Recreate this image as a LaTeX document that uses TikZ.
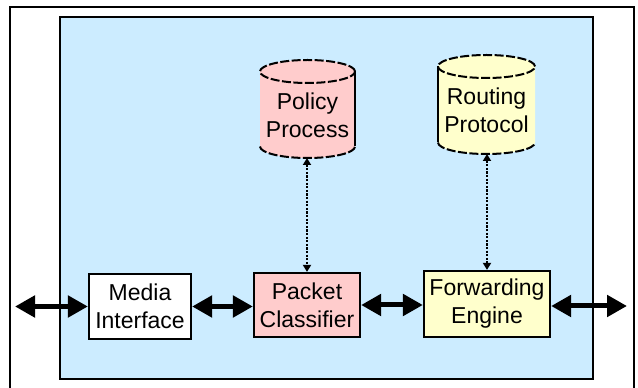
\documentclass[tikz,border=0pt]{standalone}
\usepackage{fontspec}
\setmainfont{Liberation Sans}
\usetikzlibrary{arrows.meta}
\definecolor{panel}{RGB}{204,236,255}
\definecolor{pinkfill}{RGB}{255,204,204}
\definecolor{yellowfill}{RGB}{255,255,204}
\tikzset{
  unit/.style={draw=black, line width=2.2pt, minimum width=#1, inner sep=0pt, minimum height=65pt,
    font=\fontsize{23}{28}\selectfont, align=center},
  label/.style={font=\fontsize{23}{28}\selectfont, align=center, inner sep=0pt},
  bigarrow/.style={line width=5pt, {Triangle[width=21pt,length=20pt]}-{Triangle[width=21pt,length=20pt]}},
  dotlink/.style={line width=1.8pt, dash pattern=on 2.2pt off 1.4pt,
    {Triangle[width=8pt,length=7pt]}-{Triangle[width=8pt,length=7pt]}},
  rim/.style={line width=2pt, dash pattern=on 9pt off 2.5pt},
  side/.style={line width=2.8pt},
}
\begin{document}
\begin{tikzpicture}[x=1pt,y=1pt]
\useasboundingbox (0,0) rectangle (638,388);
\begin{scope}
\clip (0,0) rectangle (638,388);
% outer frame, open at the bottom
\draw[line width=2.4pt] (10,-10) -- (10,381) -- (634,381) -- (634,-10);
% shaded router panel
\draw[line width=2.6pt, fill=panel] (60,9) rectangle (593,371);

% Policy Process store
\fill[pinkfill] (260,316.5) -- (260,241.5) arc[start angle=180,end angle=360,x radius=47.5,y radius=11.5]
  -- (355,316.5) arc[start angle=0,end angle=180,x radius=47.5,y radius=11.5];
\draw[rim] (307.5,316.5) ellipse[x radius=47.5,y radius=11.5];
\draw[rim] (260,241.5) arc[start angle=180,end angle=360,x radius=47.5,y radius=11.5];
\draw[side] (355,316.5) -- (355,241.5);
\node[label] (pol) at (307.5,273) {Policy\\Process};
\coordinate (polbot) at (307,230);

% Routing Protocol store
\fill[yellowfill] (438,321.5) -- (438,245.5) arc[start angle=180,end angle=360,x radius=48.5,y radius=11.5]
  -- (535,321.5) arc[start angle=0,end angle=180,x radius=48.5,y radius=11.5];
\draw[rim] (486.5,321.5) ellipse[x radius=48.5,y radius=11.5];
\draw[rim] (438,245.5) arc[start angle=180,end angle=360,x radius=48.5,y radius=11.5];
\draw[side] (438,321.5) -- (438,245.5);
\node[label] (rtp) at (486.5,278) {Routing\\Protocol};
\coordinate (rtpbot) at (487,234);

% processing units
\node[unit=102pt, fill=white] (mi) at (140,81.5) {Media\\Interface};
\node[unit=106pt, fill=pinkfill, minimum height=64pt] (pc) at (307,83) {Packet\\Classifier};
\node[unit=126pt, fill=yellowfill, minimum height=66pt] (fe) at (487,84) {Forwarding\\Engine};

% external ports
\coordinate (inport) at (15,81.5);
\coordinate (outport) at (627,82);

% data path
\draw[bigarrow] (inport) -- (mi.west);
\draw[bigarrow] (mi.east) -- (mi.east -| pc.west);
\draw[bigarrow] (pc.east) -- (pc.east -| fe.west);
\draw[bigarrow] (fe.east |- outport) -- (outport);

% control links
\draw[dotlink] (polbot) -- (pc.north);
\draw[dotlink] (rtpbot) -- (fe.north);
\end{scope}
\end{tikzpicture}
\end{document}
